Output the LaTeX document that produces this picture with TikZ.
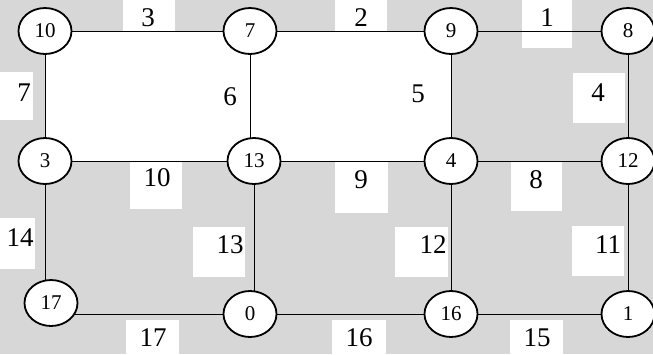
\documentclass[tikz,border=0pt]{standalone}
\usepackage{fontspec}
\setmainfont{Liberation Serif}
\usetikzlibrary{shapes.geometric,backgrounds}
\definecolor{wmgray}{RGB}{215,215,215}
\begin{document}
\begin{tikzpicture}[x=0.5pt,y=-0.5pt,line width=0.9pt,
  vtx/.style={draw,ellipse,fill=white,inner sep=0pt,minimum width=26.5pt,minimum height=23pt,font=\fontsize{10.5}{12}\selectfont},
  wt/.style={inner sep=0pt,font=\fontsize{13.5}{15}\selectfont}]
\useasboundingbox (0,0) rectangle (653,354);

\node[vtx](V10) at (45,31){10};
\node[vtx](V7) at (250,31){7};
\node[vtx](V9) at (451,31){9};
\node[vtx](V8) at (628,31){8};

\node[vtx](V3) at (45,161){3};
\node[vtx](V13) at (254,161){13};
\node[vtx](V4) at (451,161){4};
\node[vtx](V12) at (628,161){12};

\node[vtx](V17) at (51,303){17};
\node[vtx](V0) at (250,314){0};
\node[vtx](V16) at (451,314){16};
\node[vtx](V1) at (628,314){1};

\node[wt](W3) at (148,18){3};
\node[wt](W2) at (361,18){2};
\node[wt](W1) at (547,18){1};
\node[wt](W7) at (24,93){7};
\node[wt](W6) at (230,97){6};
\node[wt](W5) at (418,94){5};
\node[wt](W4) at (598,93){4};
\node[wt](W10) at (157,178){10};
\node[wt](W9) at (361,180){9};
\node[wt](W8) at (536,180){8};
\node[wt](W14) at (20,238){14};
\node[wt](W13) at (230,245){13};
\node[wt](W12) at (433,245){12};
\node[wt](W11) at (608,245){11};
\node[wt](W17) at (153,338){17};
\node[wt](W16) at (359,338){16};
\node[wt](W15) at (537,338){15};

\begin{pgfonlayer}{background}
\fill[wmgray] (0,0) rectangle (653,354);
\fill[white] (V10) rectangle (V4);
% white label boxes
\foreach \xa/\ya/\xb/\yb in {123/0/175/48, 335/0/387/48, 522/0/572/48,
  0/72/33/120, 573/73/625/123,
  130/161/182/209, 335/162/388/213, 511/161/562/211,
  0/218/35/269, 193/227/245/277, 395/227/448/277, 572/226/624/276,
  126/320/179/354, 332/320/386/354, 510/320/563/354}
  \fill[white] (\xa,\ya) rectangle (\xb,\yb);

\draw (V10)--(V7)--(V9)--(V8);
\draw (V3)--(V13)--(V4)--(V12);
\draw (V17 |- V0)--(V0)--(V16)--(V1);
\draw (V10)--(V3)--(V3 |- V17);
\draw (V7)--(V7 |- V13);
\draw (V13)--(V13 |- V0);
\draw (V9)--(V4)--(V16);
\draw (V8)--(V12)--(V1);
\end{pgfonlayer}
\end{tikzpicture}
\end{document}
